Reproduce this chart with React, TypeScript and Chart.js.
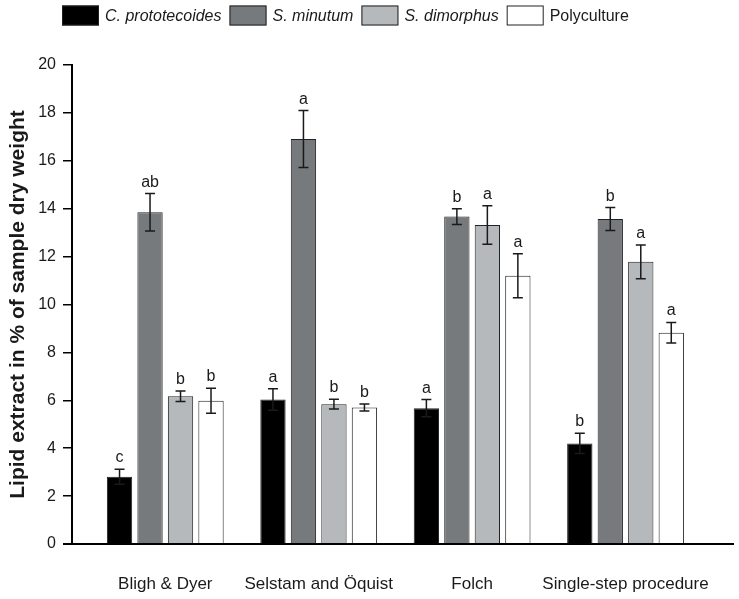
import React, { useEffect, useRef } from 'react';
import { Chart, registerables } from 'chart.js';

Chart.register(...registerables);

const categories = ['Bligh & Dyer', 'Selstam and Öquist', 'Folch', 'Single-step procedure'];
const seriesNames = ['C. prototecoides', 'S. minutum', 'S. dimorphus', 'Polyculture'];
const seriesItalic = [true, true, true, false];
const seriesColors = ['#000000', '#767a7c', '#b5b9bc', '#ffffff'];

const cProto = [2.81, 6.03, 5.67, 4.2];
const sMinutum = [13.85, 16.91, 13.67, 13.57];
const sDimorphus = [6.17, 5.84, 13.32, 11.78];
const polyculture = [5.98, 5.7, 11.2, 8.82];

const cProtoErr = [0.31, 0.45, 0.36, 0.42];
const sMinutumErr = [0.78, 1.19, 0.33, 0.48];
const sDimorphusErr = [0.22, 0.2, 0.8, 0.7];
const polycultureErr = [0.52, 0.15, 0.92, 0.43];

const cProtoLetters = ['c', 'a', 'a', 'b'];
const sMinutumLetters = ['ab', 'a', 'b', 'b'];
const sDimorphusLetters = ['b', 'b', 'a', 'a'];
const polycultureLetters = ['b', 'b', 'a', 'a'];

const yMin = 0;
const yMax = 20;
const yStep = 2;
const yTitle = 'Lipid extract in % of sample dry weight';

const seriesValues = [cProto, sMinutum, sDimorphus, polyculture];
const seriesErrors = [cProtoErr, sMinutumErr, sDimorphusErr, polycultureErr];
const seriesLetters = [cProtoLetters, sMinutumLetters, sDimorphusLetters, polycultureLetters];

const FONT = '"Liberation Sans", Arial, Helvetica, sans-serif';
const INK = '#1a1a1a';

const errorBarPlugin = {
  id: 'errorBars',
  afterDatasetsDraw(chart: any) {
    const ctx = chart.ctx;
    const y = chart.scales.y;
    chart.data.datasets.forEach((ds: any, di: number) => {
      const meta = chart.getDatasetMeta(di);
      meta.data.forEach((bar: any, i: number) => {
        const v = seriesValues[di][i];
        const e = seriesErrors[di][i];
        const x = bar.x;
        const yt = y.getPixelForValue(v + e);
        const yb = y.getPixelForValue(v - e);
        ctx.save();
        ctx.strokeStyle = INK;
        ctx.lineWidth = 1.5;
        ctx.beginPath();
        ctx.moveTo(x, yt);
        ctx.lineTo(x, yb);
        ctx.moveTo(x - 5, yt);
        ctx.lineTo(x + 5, yt);
        ctx.moveTo(x - 5, yb);
        ctx.lineTo(x + 5, yb);
        ctx.stroke();
        ctx.fillStyle = INK;
        ctx.font = '16px ' + FONT;
        ctx.textAlign = 'center';
        ctx.textBaseline = 'alphabetic';
        ctx.fillText(seriesLetters[di][i], x, yt - 7);
        ctx.restore();
      });
    });
  },
};

const axisLinePlugin = {
  id: 'axisLine',
  afterDraw(chart: any) {
    const { ctx, chartArea } = chart;
    ctx.save();
    ctx.strokeStyle = '#000';
    ctx.lineWidth = 2;
    ctx.beginPath();
    ctx.moveTo(chartArea.left - 9, chartArea.bottom);
    ctx.lineTo(chartArea.right, chartArea.bottom);
    ctx.stroke();
    ctx.restore();
  },
};

const legendPlugin = {
  id: 'customLegend',
  afterDraw(chart: any) {
    const { ctx, chartArea } = chart;
    const boxW = 37;
    const boxH = 20;
    const gapText = 6;
    const gapItem = 8;
    const yc = 15.5;
    let x = chartArea.left - 10;
    ctx.save();
    ctx.textBaseline = 'middle';
    ctx.textAlign = 'left';
    seriesNames.forEach((name, i) => {
      ctx.fillStyle = seriesColors[i];
      ctx.fillRect(x, yc - boxH / 2, boxW, boxH);
      ctx.strokeStyle = '#222';
      ctx.lineWidth = 1;
      ctx.strokeRect(x + 0.5, yc - boxH / 2 + 0.5, boxW - 1, boxH - 1);
      x += boxW + gapText;
      ctx.font = (seriesItalic[i] ? 'italic ' : '') + '16px ' + FONT;
      ctx.fillStyle = INK;
      ctx.fillText(name, x, yc + 1);
      x += ctx.measureText(name).width + gapItem;
    });
    ctx.restore();
  },
};

export default function App() {
  const canvasRef = useRef<HTMLCanvasElement | null>(null);

  useEffect(() => {
    if (!canvasRef.current) return;
    const datasets = seriesNames.map((name, di) => ({
      label: name,
      data: seriesValues[di].map((v, i) => ({ x: i, y: v })),
      backgroundColor: seriesColors[di],
      borderColor: '#222',
      borderWidth: 1,
      categoryPercentage: 0.795,
      barPercentage: 0.83,
    }));
    const chart = new Chart(canvasRef.current, {
      type: 'bar',
      data: { datasets },
      plugins: [errorBarPlugin, axisLinePlugin, legendPlugin],
      options: {
        animation: false,
        responsive: true,
        maintainAspectRatio: false,
        layout: { padding: { top: 65, right: 5, left: 0, bottom: 0 } },
        plugins: { legend: { display: false }, tooltip: { enabled: false } },
        scales: {
          x: {
            type: 'linear',
            offset: false,
            min: -0.608,
            max: 3.707,
            grid: { display: false },
            border: { display: false },
            afterBuildTicks: (s: any) => {
              s.ticks = categories.map((_, i) => ({ value: i }));
            },
            afterFit: (s: any) => {
              s.height = 55;
            },
            ticks: {
              autoSkip: false,
              maxRotation: 0,
              padding: 22,
              color: INK,
              font: { family: FONT, size: 17 },
              callback: (_v: any, idx: number) => categories[idx] ?? '',
            },
          },
          y: {
            min: yMin,
            max: yMax,
            afterFit: (s: any) => {
              s.width = 72;
            },
            ticks: {
              stepSize: yStep,
              padding: 7,
              color: INK,
              font: { family: FONT, size: 16 },
            },
            grid: {
              drawOnChartArea: false,
              drawTicks: true,
              tickLength: 9,
              color: '#000',
              lineWidth: 1.5,
            },
            border: { display: true, color: '#000', width: 2 },
            title: {
              display: true,
              text: yTitle,
              color: INK,
              font: { family: FONT, size: 21, weight: 'bold' },
              padding: { top: 6, bottom: 0 },
            },
          },
        },
      } as any,
    });
    return () => chart.destroy();
  }, []);

  return (
    <div style={{ position: 'absolute', left: 0, top: 0, width: 739, height: 599, background: '#fff' }}>
      <canvas ref={canvasRef} />
    </div>
  );
}
